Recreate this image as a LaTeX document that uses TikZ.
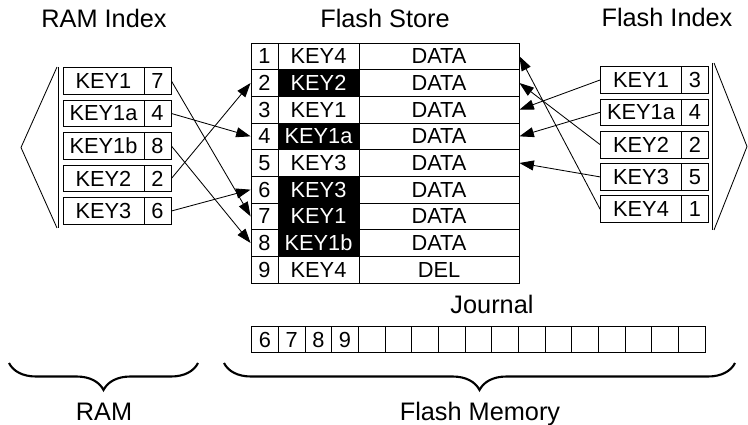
\documentclass[tikz,border=0pt]{standalone}
\usepackage{fontspec}
\setmainfont{Liberation Sans}
\usetikzlibrary{arrows.meta,decorations.pathreplacing}
\tikzset{
  cell/.style={draw, inner sep=0pt, minimum height=0.667cm, font=\fontsize{15.5}{18}\selectfont},
  numcell/.style={cell, minimum width=0.675cm},
  keycell/.style={cell, minimum width=2.025cm},
  datacell/.style={cell, minimum width=4cm},
  jcell/.style={cell, minimum width=0.667cm, minimum height=0.65cm},
  stale/.style={fill=black, text=white},
  live/.style={},
  title/.style={anchor=base, font=\fontsize{18}{22}\selectfont},
  ptr/.style={-{Triangle[length=3.6mm,width=2.5mm]}},
  memory/.style={decorate, decoration={brace, mirror, amplitude=0.675cm}, line width=1.5pt}
}
\begin{document}
\begin{tikzpicture}[x=0.025cm, y=-0.025cm, line width=0.6pt]
  \useasboundingbox (0,0) rectangle (748,425);
  \node [title] (ramtitle) at (104,28) {RAM Index};
  \node [title] (storetitle) at (385,28) {Flash Store};
  \node [title] (flashtitle) at (667,27) {Flash Index};
  % flash store
  \foreach \i/\key/\data/\look in {1/KEY4/DATA/live, 2/KEY2/DATA/stale, 3/KEY1/DATA/live,
      4/KEY1a/DATA/stale, 5/KEY3/DATA/live, 6/KEY3/DATA/stale, 7/KEY1/DATA/stale,
      8/KEY1b/DATA/stale, 9/KEY4/DEL/live}{
    \node [numcell] (n\i) at (264.5, {43+26.667*\i-13.333}) {\i};
    \node [keycell, \look] (k\i) at (318.5, {43+26.667*\i-13.333}) {\key};
    \node [datacell] (d\i) at (439, {43+26.667*\i-13.333}) {\data};
  }
  % ram index
  \foreach \j/\key/\slot in {1/KEY1/7, 2/KEY1a/4, 3/KEY1b/8, 4/KEY2/2, 5/KEY3/6}{
    \node [keycell] (rk\j) at (103.5, {81+32.5*(\j-1)}) {\key};
    \node [numcell] (rn\j) at (157.5, {81+32.5*(\j-1)}) {\slot};
  }
  \draw (58,67) -- (58,228);
  \draw (57,67) -- (21,147.5) -- (57,228);
  % flash index
  \foreach \j/\key/\slot in {1/KEY1/3, 2/KEY1a/4, 3/KEY2/2, 4/KEY3/5, 5/KEY4/1}{
    \node [keycell] (fk\j) at (641, {80+32.3*(\j-1)}) {\key};
    \node [numcell] (fn\j) at (695, {80+32.3*(\j-1)}) {\slot};
  }
  \draw (712,63) -- (712,230);
  \draw (714,63) -- (747,146.5) -- (714,230);
  \foreach \j/\row in {1/7, 2/4, 3/8, 4/2, 5/6}
    \draw [ptr] (rn\j.east) -- (n\row.west);
  \foreach \j/\row in {1/3, 2/4, 3/2, 4/5, 5/1}
    \draw [ptr] (fk\j.west) -- (d\row.east);
  % journal
  \node [title] (journal) at (492,314) {Journal};
  \foreach \k/\v in {1/6, 2/7, 3/8, 4/9}
    \node [jcell] (j\k) at ({251.7+26.67*(\k-0.5)}, 339.7) {\v};
  \foreach \k in {5,...,17}
    \node [jcell] (j\k) at ({251.7+26.67*(\k-0.5)}, 339.7) {};
  % memories
  \draw [memory] (9,363) -- (198,363);
  \draw [memory] (224,363) -- (735,363);
  \node [title] (ram) at (104,420) {RAM};
  \node [title] (flash) at (480,420) {Flash Memory};
\end{tikzpicture}
\end{document}
